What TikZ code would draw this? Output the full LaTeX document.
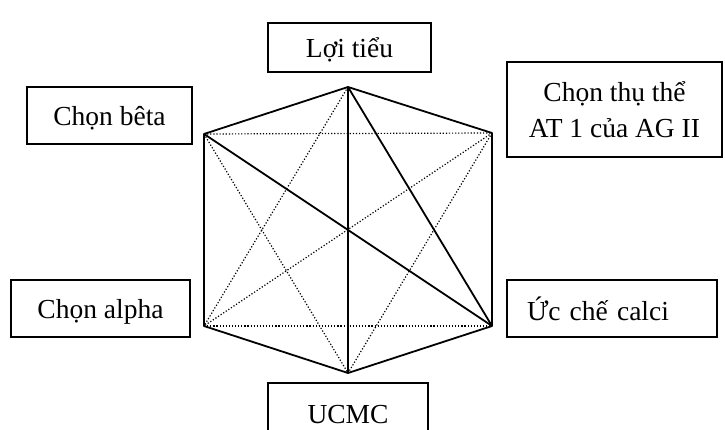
\documentclass[tikz,border=0pt]{standalone}
\usepackage{fontspec}
\setmainfont{Liberation Serif}
\begin{document}
\begin{tikzpicture}[x=1pt,y=-1pt,
  box/.style={draw, line width=1.6pt, inner sep=0pt, align=center,
    font=\fontsize{27.5}{36}\selectfont},
  oneline/.style={box, text depth=0pt},
  side/.style={line width=1.8pt, line join=round},
  cross/.style={line width=1.2pt, dash pattern=on 1.2pt off 1.9pt}]
\useasboundingbox (0,0) rectangle (725,430);

% labelled boxes around the hexagon
\node[oneline, minimum width=163pt, minimum height=49pt] (loi) at (349.5,47.5) {Lợi tiểu};
\node[box, minimum width=215pt, minimum height=95pt] (thu) at (614.5,109.5) {Chọn thụ thể\\AT 1 của AG II};
\node[oneline, minimum width=165pt, minimum height=57pt] (beta) at (109.5,115.5) {Chọn bêta};
\node[oneline, minimum width=179pt, minimum height=57pt] (alpha) at (100.5,308.5) {Chọn alpha};
\node[oneline, minimum height=57pt, inner xsep=20pt, text width=170pt, align=left] (calci) at (612,308.5) {Ức chế calci};
\node[oneline, minimum width=160pt, minimum height=62pt] (ucmc) at (348,414) {UCMC};

% hexagon corners
\coordinate (T)  at (348,87);
\coordinate (UR) at (492,133);
\coordinate (LR) at (492,326);
\coordinate (B)  at (348,373);
\coordinate (LL) at (204,326);
\coordinate (UL) at (204,134);

% dotted diagonals
\draw[cross] (UL) -- (UR);
\draw[cross] (LL) -- (LR);
\draw[cross] (T) -- (LL);
\draw[cross] (UL) -- (B);
\draw[cross] (UR) -- (LL);
\draw[cross] (UR) -- (B);

% solid sides and diagonals
\draw[side] (T) -- (UR) -- (LR) -- (B) -- (LL) -- (UL) -- cycle;
\draw[side] (T) -- (B);
\draw[side] (UL) -- (LR);
\draw[side] (T) -- (LR);
\end{tikzpicture}
\end{document}
